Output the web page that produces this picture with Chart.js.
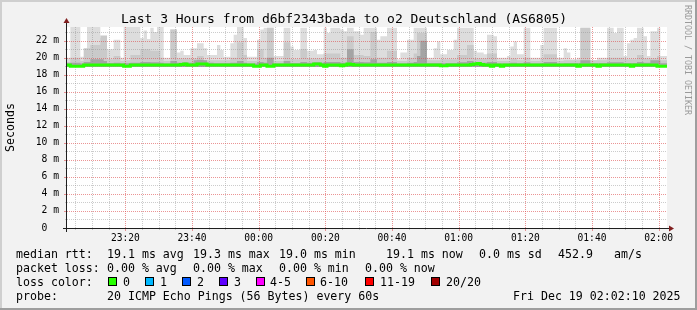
<!DOCTYPE html>
<html><head><meta charset="utf-8">
<script src="https://cdn.jsdelivr.net/npm/chart.js@4.4.0/dist/chart.umd.min.js"></script>
<style>
html,body{margin:0;padding:0;background:#f2f2f2;}
#wrap{position:relative;width:697px;height:310px;overflow:hidden;background:#f2f2f2;font-family:"DejaVu Sans Mono",monospace;color:#000;}
#wrap canvas{position:absolute;left:0;top:0;}
.t{position:absolute;white-space:pre;font-size:11.6px;line-height:14px;height:14px;}
.box{position:absolute;width:7px;height:7px;border:1px solid #000;top:277px;}
.sh{position:absolute;}
</style></head><body>
<div id="wrap">
<canvas id="c" width="697" height="310" style="width:697px;height:310px"></canvas>
<div class="sh" style="left:0;top:0;width:697px;height:2px;background:#cfcfcf"></div>
<div class="sh" style="left:0;top:0;width:2px;height:310px;background:#cfcfcf"></div>
<div class="sh" style="left:0;top:308px;width:697px;height:2px;background:#9e9e9e"></div>
<div class="sh" style="left:695px;top:0;width:2px;height:310px;background:#9e9e9e"></div>
<div class="t" style="left:121px;top:11px;font-size:13px;line-height:16px;height:16px">Last 3 Hours from d6bf2343bada to o2 Deutschland (AS6805)</div>
<div class="t" style="left:693px;top:5px;font-size:8.3px;line-height:10px;height:10px;color:#9a9a9a;transform:rotate(90deg);transform-origin:0 0">RRDTOOL / TOBI OETIKER</div>
<div class="t" style="left:3px;top:152px;transform:rotate(-90deg);transform-origin:0 0">Seconds</div>

<div class="t" style="left:16px;top:247px">median rtt:</div>
<div class="t" style="left:107px;top:247px">19.1 ms avg</div>
<div class="t" style="left:193px;top:247px">19.3 ms max</div>
<div class="t" style="left:279px;top:247px">19.0 ms min</div>
<div class="t" style="left:386px;top:247px">19.1 ms now</div>
<div class="t" style="left:479px;top:247px">0.0 ms sd</div>
<div class="t" style="left:558px;top:247px">452.9</div>
<div class="t" style="left:614px;top:247px">am/s</div>

<div class="t" style="left:16px;top:261px">packet loss:</div>
<div class="t" style="left:107px;top:261px">0.00 % avg</div>
<div class="t" style="left:193px;top:261px">0.00 % max</div>
<div class="t" style="left:279px;top:261px">0.00 % min</div>
<div class="t" style="left:365px;top:261px">0.00 % now</div>

<div class="t" style="left:16px;top:275px">loss color:</div>
<div id="lossLegend"></div>

<div class="t" style="left:16px;top:289px">probe:</div>
<div class="t" style="left:107px;top:289px">20 ICMP Echo Pings (56 Bytes) every 60s</div>
<div class="t" style="left:513px;top:289px">Fri Dec 19 02:02:10 2025</div>
</div>
<script>
// ---- data (one value per minute, starting 23:02:30) ----
const timeStart = '23:02:30';
const xTickLabels = ['23:20','23:40','00:00','00:20','00:40','01:00','01:20','01:40','02:00'];
const yTickValues = [0,2,4,6,8,10,12,14,16,18,20,22];
const yTickLabels = ['0  ',' 2 m',' 4 m',' 6 m',' 8 m','10 m','12 m','14 m','16 m','18 m','20 m','22 m'];
const yMax = 23.6;
const smokeFloor = 18.9;

const smokeMax = [
19.9,20.0,23.6,23.6,23.6,20.1,20.1,23.6,23.6,23.6,
23.6,22.3,22.5,21.0,21.0,22.1,22.1,20.0,23.6,23.6,
23.6,23.6,23.6,22.3,23.2,22.2,23.5,23.0,23.6,23.6,
20.0,20.0,23.3,23.3,20.6,20.8,20.3,20.3,21.1,21.1,
21.7,21.7,21.1,20.3,20.3,20.3,21.5,20.9,20.1,20.1,
21.7,22.7,23.6,23.6,22.3,20.1,20.1,20.1,22.1,23.3,
23.5,23.5,23.5,20.2,20.2,20.2,23.5,23.5,21.3,20.9,
20.9,23.5,23.5,20.8,20.8,20.9,20.4,20.4,23.5,22.9,
23.5,23.5,23.5,23.3,23.1,23.5,23.5,23.1,23.1,22.7,
23.5,23.5,23.5,23.5,22.1,22.5,22.5,23.5,23.5,23.5,
19.8,20.6,20.6,22.1,22.1,23.5,23.5,23.5,23.5,20.0,
20.0,21.1,21.9,20.4,20.4,20.9,20.9,22.1,23.5,23.5,
23.5,23.5,23.5,20.8,20.6,20.6,20.4,22.7,22.7,22.5,
20.0,20.0,20.0,20.2,21.3,21.9,20.4,20.4,23.5,23.5,
20.0,20.0,20.0,21.5,23.5,23.5,23.5,23.5,20.0,20.0,
21.1,20.6,19.8,19.8,20.0,23.5,23.5,23.5,19.7,19.7,
20.0,20.0,20.0,23.5,23.5,22.9,23.5,23.5,20.2,21.7,
22.1,22.3,23.5,23.5,22.5,20.2,23.1,23.1,23.5,20.2];

const smokeMid = [
19.5,19.5,20.0,20.0,20.0,19.6,21.1,21.1,21.5,21.5,
21.5,22.6,22.6,19.8,19.8,20.2,20.2,19.6,19.7,19.7,
20.3,20.3,20.3,21.0,21.0,21.0,20.8,20.8,20.8,20.0,
19.6,19.6,23.3,23.3,19.9,19.9,19.9,19.9,19.9,19.9,
20.2,20.2,19.7,19.7,19.7,19.7,19.7,19.7,19.7,19.7,
20.0,20.0,21.8,21.8,20.3,19.6,19.6,19.6,21.0,21.0,
20.0,23.5,23.5,19.6,19.6,19.6,21.8,21.8,19.8,19.8,
19.8,21.0,21.0,19.9,19.9,19.9,19.9,19.9,20.5,20.5,
20.5,20.5,20.5,20.0,20.0,22.5,22.5,20.3,20.3,20.3,
20.2,20.2,23.0,23.0,20.0,20.0,20.0,20.8,20.8,20.8,
19.6,19.6,19.6,20.0,20.0,20.5,22.9,22.9,22.9,19.7,
19.7,19.7,19.7,19.8,19.8,19.8,19.8,19.8,20.3,20.3,
20.3,21.5,21.5,19.9,19.9,19.9,19.9,20.5,20.5,20.5,
19.6,19.6,19.6,19.6,19.9,19.9,19.7,19.7,20.0,20.0,
19.6,19.6,19.6,19.8,20.4,20.4,20.4,20.4,19.6,19.6,
19.7,19.7,19.7,19.7,19.7,23.5,23.5,23.5,19.7,19.7,
19.7,19.7,19.7,20.0,20.0,20.0,20.0,20.0,19.8,19.8,
19.8,19.8,20.3,20.3,19.9,19.9,19.9,19.9,20.2,19.7];

const smokeDark = [
19.3,19.3,19.4,19.4,19.4,19.3,19.5,19.5,19.8,19.8,
19.8,19.8,19.6,19.35,19.35,19.4,19.4,19.3,19.35,19.35,
19.4,19.4,19.4,19.5,19.5,19.5,19.45,19.45,19.45,19.4,
19.3,19.3,19.6,19.6,19.4,19.4,19.45,19.4,19.4,19.7,
19.75,19.75,19.7,19.4,19.4,19.35,19.35,19.35,19.35,19.35,
19.4,19.4,19.6,19.6,19.4,19.3,19.3,19.3,19.5,19.5,
19.4,20.0,20.0,19.3,19.3,19.3,19.6,19.6,19.35,19.35,
19.35,19.5,19.5,19.4,19.4,19.45,19.45,19.4,19.5,19.5,
19.5,19.5,19.5,19.4,19.4,21.0,21.0,19.5,19.5,19.5,
19.45,19.45,19.8,19.8,19.4,19.4,19.4,19.5,19.5,19.5,
19.3,19.3,19.3,19.4,19.4,19.5,20.2,22.0,22.0,19.35,
19.35,19.35,19.35,19.35,19.35,19.35,19.35,19.35,19.45,19.45,
19.45,19.6,19.6,19.4,19.5,19.4,19.4,19.5,19.5,19.5,
19.3,19.3,19.3,19.3,19.4,19.4,19.35,19.35,19.45,19.45,
19.3,19.3,19.3,19.35,19.5,19.5,19.5,19.5,19.3,19.3,
19.35,19.35,19.35,19.35,19.35,19.7,19.7,19.7,19.35,19.35,
19.35,19.35,19.35,19.45,19.45,19.45,19.45,19.45,19.35,19.35,
19.35,19.35,19.5,19.5,19.4,19.4,19.7,19.7,19.7,19.35];

const median = [
19.15,19.15,19.0,19.0,19.0,19.0,19.15,19.15,19.15,19.15,
19.15,19.15,19.15,19.15,19.15,19.15,19.15,19.15,19.0,19.0,
19.15,19.15,19.15,19.15,19.15,19.15,19.15,19.15,19.15,19.15,
19.15,19.15,19.15,19.15,19.15,19.2,19.25,19.15,19.15,19.15,
19.25,19.25,19.25,19.15,19.15,19.15,19.15,19.15,19.15,19.15,
19.15,19.15,19.15,19.15,19.15,19.15,19.15,19.0,19.0,19.15,
19.15,19.0,19.0,19.15,19.15,19.15,19.15,19.15,19.15,19.15,
19.15,19.15,19.15,19.15,19.15,19.25,19.25,19.15,19.0,19.15,
19.15,19.15,19.15,19.05,19.15,19.25,19.2,19.15,19.15,19.15,
19.15,19.15,19.15,19.15,19.15,19.15,19.15,19.15,19.15,19.15,
19.15,19.15,19.15,19.15,19.15,19.15,19.15,19.15,19.15,19.15,
19.15,19.15,19.15,19.05,19.05,19.15,19.15,19.15,19.15,19.15,
19.15,19.15,19.2,19.25,19.3,19.2,19.15,19.15,19.0,19.15,
19.15,19.0,19.15,19.15,19.15,19.15,19.15,19.15,19.15,19.15,
19.15,19.15,19.15,19.15,19.15,19.15,19.15,19.15,19.15,19.15,
19.15,19.15,19.15,19.15,19.0,19.15,19.15,19.15,19.15,19.15,
19.0,19.15,19.15,19.15,19.15,19.15,19.15,19.15,19.15,19.15,
19.0,19.15,19.15,19.15,19.15,19.15,19.15,19.15,19.0,19.0];

const lossLabels = ['0','1','2','3','4-5','6-10','11-19','20/20'];
const lossColors = ['#26ff00','#00b8ff','#0059ff','#5e00ff','#ff00ff','#ff5500','#ff0000','#a10000'];
const lossBoxX = [108,145,182,219,256,306,365,431];
const lossTextX = [123,160,197,234,270,320,380,446];

// ---- legend boxes ----
const ll = document.getElementById('lossLegend');
lossLabels.forEach((lab,k)=>{
  const b = document.createElement('div'); b.className='box';
  b.style.left = lossBoxX[k]+'px'; b.style.background = lossColors[k]; ll.appendChild(b);
  const t = document.createElement('div'); t.className='t';
  t.style.left = lossTextX[k]+'px'; t.style.top='275px'; t.textContent = lab; ll.appendChild(t);
});

// ---- helpers ----
function minutesFromStart(hhmm){
  const [h,m] = hhmm.split(':').map(Number);
  const [sh,sm,ss] = timeStart.split(':').map(Number);
  let d = (h*60+m) - (sh*60+sm+ss/60);
  if (d < 0) d += 1440;
  return d;
}
const nMin = smokeMax.length;
const xMajor = xTickLabels.map(minutesFromStart);
const FONT = '"DejaVu Sans Mono", monospace';

const steps = (arr)=>{ const p = arr.map((v,i)=>({x:i, y:v})); p.push({x:arr.length, y:arr[arr.length-1]}); return p; };

const GRID_MINOR = 'rgba(143,143,143,0.45)';
const GRID_MAJOR = 'rgba(222,79,79,0.6)';

const smokeLayer = (id, arr, color, order)=>({
  id, type:'line', data:steps(arr), stepped:'after', borderWidth:0, borderColor:color,
  backgroundColor:color, pointRadius:0, fill:{value:smokeFloor}, order
});

const rrdPlugin = {
  id:'rrd',
  beforeDraw(chart){
    const a = chart.chartArea, ctx = chart.ctx;
    ctx.save(); ctx.fillStyle='#ffffff';
    ctx.fillRect(a.left, a.top, a.right-a.left, a.bottom-a.top);
    ctx.restore();
  },
  afterDatasetDraw(chart, args){
    if (chart.data.datasets[args.index].id !== 'dark') return;
    const a = chart.chartArea, ctx = chart.ctx, xs = chart.scales.x, ys = chart.scales.y;
    ctx.save();
    ctx.lineWidth = 1; ctx.setLineDash([1,1]);
    const drawH = (major)=>{
      ys.ticks.forEach(t=>{
        if (t.value === 0) return;
        const isMaj = t.value % 2 === 0;
        if (isMaj !== major) return;
        const p = Math.round(ys.getPixelForValue(t.value)) + 0.5;
        ctx.strokeStyle = major ? GRID_MAJOR : GRID_MINOR;
        ctx.beginPath(); ctx.moveTo(a.left, p); ctx.lineTo(a.right, p); ctx.stroke();
      });
    };
    const drawV = (major)=>{
      xs.ticks.forEach(t=>{
        const isMaj = xMajor.some(m=>Math.abs(m-t.value)<1e-6);
        if (isMaj !== major) return;
        const p = Math.round(xs.getPixelForValue(t.value)) + 0.5;
        ctx.strokeStyle = major ? GRID_MAJOR : GRID_MINOR;
        ctx.beginPath(); ctx.moveTo(p, a.top); ctx.lineTo(p, a.bottom); ctx.stroke();
      });
    };
    drawH(false); drawV(false); drawH(true); drawV(true);
    ctx.restore();
  },
  afterDraw(chart){
    const a = chart.chartArea, ctx = chart.ctx, xs = chart.scales.x, ys = chart.scales.y;
    ctx.save();
    ctx.lineWidth = 1; ctx.setLineDash([]);
    ys.ticks.forEach(t=>{
      const p = Math.round(ys.getPixelForValue(t.value)) + 0.5;
      const maj = t.value % 2 === 0;
      ctx.strokeStyle = maj ? GRID_MAJOR : GRID_MINOR;
      ctx.beginPath(); ctx.moveTo(a.left - (maj?3:2), p); ctx.lineTo(a.left, p); ctx.stroke();
    });
    xs.ticks.forEach(t=>{
      const p = Math.round(xs.getPixelForValue(t.value)) + 0.5;
      const maj = xMajor.some(m=>Math.abs(m-t.value)<1e-6);
      ctx.strokeStyle = maj ? GRID_MAJOR : GRID_MINOR;
      ctx.beginPath(); ctx.moveTo(p, a.bottom); ctx.lineTo(p, a.bottom + (maj?3:2)); ctx.stroke();
    });
    ctx.strokeStyle = '#1f1f1f';
    const xa = Math.round(a.left) - 0.5, yb = Math.round(a.bottom) + 0.5;
    ctx.beginPath(); ctx.moveTo(a.left - 4, yb); ctx.lineTo(a.right + 3, yb); ctx.stroke();
    ctx.beginPath(); ctx.moveTo(xa, a.bottom + 4); ctx.lineTo(xa, a.top - 4); ctx.stroke();
    ctx.fillStyle = '#801f1f';
    ctx.beginPath(); ctx.moveTo(a.right + 2, yb - 3); ctx.lineTo(a.right + 7, yb); ctx.lineTo(a.right + 2, yb + 3); ctx.closePath(); ctx.fill();
    ctx.beginPath(); ctx.moveTo(xa - 3, a.top - 4); ctx.lineTo(xa, a.top - 9); ctx.lineTo(xa + 3, a.top - 4); ctx.closePath(); ctx.fill();
    ctx.restore();
  }
};

new Chart(document.getElementById('c'), {
  type:'line',
  data:{ datasets:[
    {id:'median', type:'line', label:'median rtt', data:steps(median), stepped:'after',
     borderColor:'#26ff00', borderWidth:3, pointRadius:0, fill:false, order:0},
    smokeLayer('dark', smokeDark, '#a4a4a4', 1),
    smokeLayer('mid', smokeMid, '#cacaca', 2),
    smokeLayer('outer', smokeMax, '#dddddd', 3)
  ]},
  options:{
    responsive:false, animation:false, devicePixelRatio:1, events:[],
    layout:{padding:{top:27, right:30, left:0, bottom:0}},
    plugins:{legend:{display:false}, tooltip:{enabled:false}, title:{display:false}, filler:{propagate:false}},
    scales:{
      x:{type:'linear', min:0, max:nMin, offset:false,
        afterBuildTicks(s){
          const t = [];
          for (let v = minutesFromStart('23:05'); v < nMin; v += 5) t.push({value:v});
          s.ticks = t;
        },
        afterFit(s){ s.height = 82; },
        grid:{display:false, drawTicks:false}, border:{display:false},
        ticks:{autoSkip:false, maxRotation:0, padding:5, color:'#000',
          font:{family:FONT, size:9.6},
          callback(v){ const k = xMajor.findIndex(m=>Math.abs(m-v)<1e-6); return k>=0 ? xTickLabels[k] : ''; }}
      },
      y:{type:'linear', min:0, max:yMax, beginAtZero:true,
        afterFit(s){ s.width = 67; },
        grid:{display:false, drawTicks:false}, border:{display:false},
        ticks:{stepSize:1, includeBounds:false, autoSkip:false, padding:8, color:'#000',
          font:{family:FONT, size:9.7},
          callback(v){ const k = yTickValues.indexOf(v); return k>=0 ? yTickLabels[k] : ''; }}
      }
    }
  },
  plugins:[rrdPlugin]
});
</script>
</body></html>
